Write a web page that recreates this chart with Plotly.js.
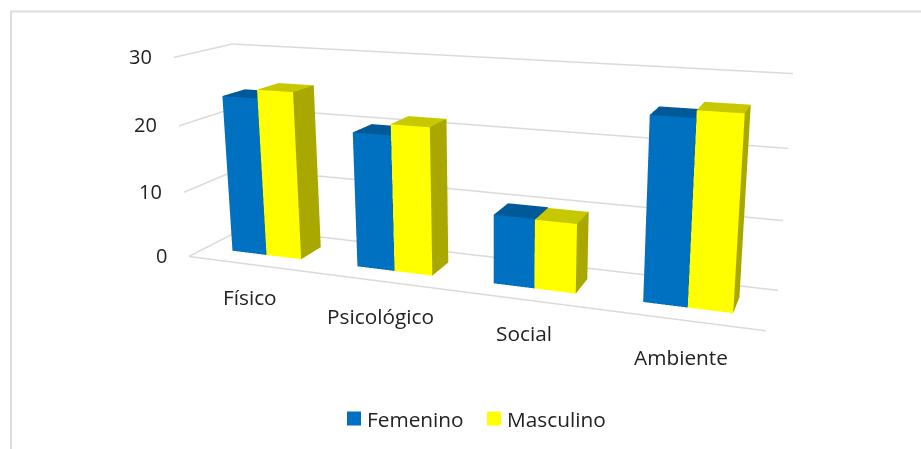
<!DOCTYPE html>
<html><head><meta charset="utf-8">
<script src="https://cdn.plot.ly/plotly-3.0.1.min.js"></script>
<style>html,body{margin:0;padding:0;background:#fff;overflow:hidden;width:921px;height:449px}
#c{position:absolute;left:0;top:-276.5px;width:1000px;height:895px}</style></head>
<body><div id="c"></div>
<script>
const categories=["Físico","Psicológico","Social","Ambiente"];
const femenino=[23.9,20,10,25.4];
const masculino=[25.2,21.6,9.9,26.4];
const yTicks=[0,10,20,30];
const seriesNames=["Femenino","Masculino"];
const seriesColors=["#0070C0","#FFFF00"];
const topColors=["#005A9A","#C8C800"];
const sideColors=["#004C82","#A8A800"];

// camera solved from the picture's vanishing points
const X=[.9422,-.0838,-.3245],Y=[.3345,.2357,.9124],Z=[0,.9682,-.2502];
const A=[-.288,-.0787,1],L=.5228,W=.0926,H=.1853;
const PW=1000,PH=895,PTOP=-276.5;
const dot=(a,b)=>a[0]*b[0]+a[1]*b[1]+a[2]*b[2];
const O=[0,1,2].map(i=>A[i]+.5*(L*X[i]+W*Y[i]+H*Z[i]));
const s=1/L;
const eye={x:-dot(O,X)*s,y:-dot(O,Y)*s,z:-dot(O,Z)*s};
const t=Math.sqrt(dot(O,O))*s;
const center={x:eye.x+t*X[2],y:eye.y+t*Y[2],z:eye.z+t*Z[2]};
const up={x:X[1],y:Y[1],z:Z[1]};

function bars(vals,si){
  const x=[],y=[],z=[],i=[],j=[],k=[],fc=[];
  vals.forEach((v,c)=>{
    const b=x.length,x0=c+.22+si*.28,x1=x0+.28,y0=.3,y1=.7;
    [[x0,y0,0],[x1,y0,0],[x1,y1,0],[x0,y1,0],[x0,y0,v],[x1,y0,v],[x1,y1,v],[x0,y1,v]].forEach(p=>{x.push(p[0]);y.push(p[1]);z.push(p[2]);});
    const faces=[[0,1,5,seriesColors[si]],[0,5,4,seriesColors[si]],[1,2,6,sideColors[si]],[1,6,5,sideColors[si]],[4,5,6,topColors[si]],[4,6,7,topColors[si]],[0,3,7,sideColors[si]],[0,7,4,sideColors[si]],[3,2,6,sideColors[si]],[3,6,7,sideColors[si]]];
    faces.forEach(f=>{i.push(b+f[0]);j.push(b+f[1]);k.push(b+f[2]);fc.push(f[3]);});
  });
  return {type:'mesh3d',x,y,z,i,j,k,facecolor:fc,flatshading:true,hoverinfo:'skip',showscale:false,
    lighting:{ambient:1,diffuse:0,specular:0,roughness:1,fresnel:0},name:seriesNames[si],showlegend:false};
}
const line3d=(x,y,z)=>({type:'scatter3d',mode:'lines',x,y,z,line:{color:'#DADADA',width:3},hoverinfo:'skip',showlegend:false});
const gridTraces=yTicks.map(v=>line3d([0,0,4],[0,1,1],[v,v,v]));
const floorEdge=line3d([0,4],[0,0],[0,0]);
const tickFont={family:'"Open Sans", sans-serif',size:20,color:'#222'};
const labelFont={family:'"Open Sans", sans-serif',size:20.8,color:'#222'};
const labelShiftY=[-33,-35,-33,-37];
const annos=[
  ...yTicks.map(v=>({x:0,y:0,z:v,text:String(v),showarrow:false,xanchor:'right',xshift:-20,yshift:1,font:tickFont})),
  ...categories.map((c,n)=>({x:n+.5,y:0,z:0,text:c,showarrow:false,yshift:labelShiftY[n],font:labelFont}))
];
const pxX=p=>p/PW,pxY=p=>1-(p-PTOP)/PH;
const hidden={visible:true,showticklabels:false,ticks:'',showline:false,zeroline:false,showgrid:false,showbackground:false,showspikes:false,title:{text:''}};
const legendAt=[347,487], legendTextAt=[367,507];
Plotly.newPlot('c',[bars(femenino,0),bars(masculino,1),...gridTraces,floorEdge],{
  width:PW,height:PH,margin:{l:0,r:0,t:0,b:0},paper_bgcolor:'rgba(0,0,0,0)',showlegend:false,
  scene:{domain:{x:[0,1],y:[0,1]},aspectmode:'manual',aspectratio:{x:1,y:W/L,z:H/L},
    camera:{eye,center,up,projection:{type:'perspective'}},
    xaxis:{...hidden,range:[0,4]},yaxis:{...hidden,range:[0,1]},
    zaxis:{...hidden,range:[0,30],dtick:10,tick0:0},
    annotations:annos},
  annotations:seriesNames.map((n,i)=>({xref:'paper',yref:'paper',x:pxX(legendTextAt[i]),y:pxY(418),xanchor:'left',yanchor:'middle',showarrow:false,text:n,font:labelFont,borderpad:0,borderwidth:0})),
  shapes:[{type:'rect',xref:'paper',yref:'paper',x0:pxX(11),x1:pxX(960),y0:pxY(11),y1:pxY(500),line:{color:'#DCDCDC',width:2}},
    ...seriesColors.map((c,i)=>({type:'rect',xref:'paper',yref:'paper',x0:pxX(legendAt[i]),x1:pxX(legendAt[i]+14),y0:pxY(411),y1:pxY(425),fillcolor:c,line:{width:0}}))]
},{displayModeBar:false});
</script></body></html>
